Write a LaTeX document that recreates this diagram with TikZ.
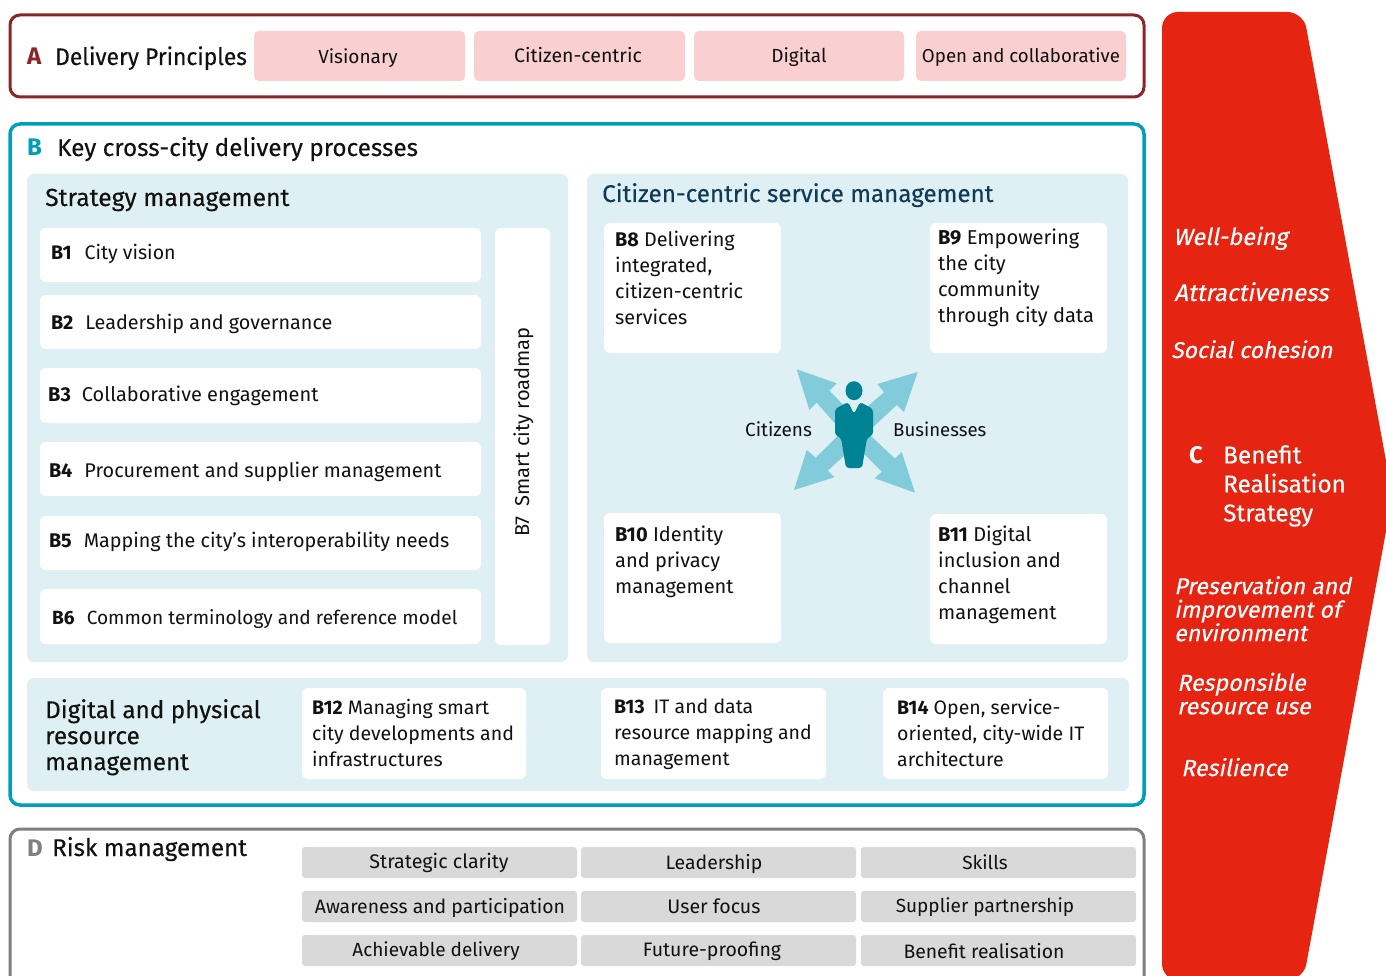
\documentclass[tikz,border=0pt]{standalone}
\usepackage{fontspec}
\setmainfont{Fira Sans}
\newfontfamily\headfont{Fira Sans}[FakeBold=0.25]
\newfontfamily\obl{Fira Sans}[FakeSlant=0.2,FakeBold=0.3]
\definecolor{cA}{HTML}{8C2626}
\definecolor{cPink}{HTML}{F9CFCF}
\definecolor{cB}{HTML}{009FB7}
\definecolor{cLight}{HTML}{DFF0F5}
\definecolor{cRed}{HTML}{E62412}
\definecolor{cGrey}{HTML}{7F7F7F}
\definecolor{cGreyBox}{HTML}{D9D9D9}
\definecolor{cTeal}{HTML}{008295}
\definecolor{cArrow}{HTML}{82CBDA}
\definecolor{cInk}{HTML}{111111}
\definecolor{cNavy}{HTML}{0F3B57}
\newcommand{\bx}[6]{%
  \pgfmathsetmacro{\bw}{#4-#2}\pgfmathsetmacro{\bh}{#5-#3}%
  \node[#6,anchor=north west,inner sep=0pt,outer sep=0pt,minimum width=\bw pt,minimum height=\bh pt] (#1) at (#2,#3) {};}
\newcommand{\fs}[1]{\fontsize{#1}{26}\selectfont}
\newcommand{\hs}[1]{\headfont\fontsize{#1}{26}\selectfont}
\newcommand{\ws}[1]{\obl\fontsize{#1}{23.5}\selectfont}
\tikzset{
  x=1pt,y=-1pt,
  frameA/.style={draw=cA,line width=3pt,fill=white,rounded corners=10pt},
  frameB/.style={draw=cB,line width=3.5pt,fill=white,rounded corners=10pt},
  frameD/.style={draw=cGrey,line width=3pt,fill=white,rounded corners=10pt},
  pinkbox/.style={fill=cPink,rounded corners=5pt},
  lightbox/.style={fill=cLight,rounded corners=7pt},
  whitebox/.style={fill=white,rounded corners=6pt},
  greybox/.style={fill=cGreyBox,rounded corners=3pt},
  body/.style={inner sep=0pt,text=cInk,align=left},
  lab/.style={body,anchor=base west},
  mid/.style={body,anchor=base,align=center},
  head/.style={inner sep=0pt,text=cInk,align=left},
  wtxt/.style={inner sep=0pt,text=white,align=left},
  arrowfill/.style={fill=cArrow},
  personfill/.style={fill=cTeal},
}
\begin{document}
\begin{tikzpicture}
\useasboundingbox (0,0) rectangle (1386,976);
\clip (0,0) rectangle (1386,976);
% Red benefit shape
\fill[cRed,rounded corners=16pt] (1162,12) -- (1303.4,12) -- (1392.5,496) -- (1303.4,980) -- (1162,980) -- cycle;
% Frame A
\bx{frA}{10}{15}{1144}{97}{frameA}
\node[head,anchor=base west,text=cA,font=\fontsize{24}{26}\selectfont\bfseries] (lA) at (27,65) {A};
\node[head,anchor=base west,font=\hs{24}] (tA) at (55,65) {\scalebox{0.95}[1]{Delivery Principles}};
\bx{p1}{254}{31}{465}{81}{pinkbox}
\bx{p2}{474}{31}{685}{81}{pinkbox}
\bx{p3}{694}{31}{904}{81}{pinkbox}
\bx{p4}{916}{31}{1126}{81}{pinkbox}
\node[mid,font=\fs{19}] (tp1) at (358,64) {Visionary};
\node[mid,font=\fs{19.5}] (tp2) at (578,63) {Citizen-centric};
\node[mid,font=\fs{19}] (tp3) at (799,63) {Digital};
\node[mid,font=\fs{18.7}] (tp4) at (1021,63) {Open and collaborative};
% Frame B
\bx{frB}{10}{124}{1144}{805}{frameB}
\node[head,anchor=base west,text=cB,font=\fontsize{24}{26}\selectfont\bfseries] (lB) at (27,156) {B};
\node[head,anchor=base west,font=\hs{24.3}] (tB) at (57,156) {Key cross-city delivery processes};
% Strategy
\bx{sm}{27}{174}{568}{662}{lightbox}
\node[head,anchor=base west,font=\hs{24.7}] (tsm) at (45,206) {Strategy management};
\bx{b1}{40}{228}{481}{282}{whitebox}
\bx{b2}{40}{295}{481}{349}{whitebox}
\bx{b3}{40}{368}{481}{423}{whitebox}
\bx{b4}{40}{442}{481}{496}{whitebox}
\bx{b5}{40}{516}{481}{570}{whitebox}
\bx{b6}{40}{589}{481}{644}{whitebox}
\bx{b7}{495}{228}{550}{645}{whitebox}
\node[lab,font=\fs{19.6}] (t1) at (51,260) {\textbf{B1}\hspace{13pt}City vision};
\node[lab,font=\fs{19.8}] (t2) at (51,329) {\textbf{B2}\hspace{12pt}Leadership and governance};
\node[lab,font=\fs{20}] (t3) at (48,401) {\textbf{B3}\hspace{11pt}Collaborative engagement};
\node[lab,font=\fs{19.85}] (t4) at (49,477) {\textbf{B4}\hspace{12pt}Procurement and supplier management};
\node[lab,font=\fs{19.75}] (t5) at (49,547) {\textbf{B5}\hspace{12pt}Mapping the city's interoperability needs};
\node[lab,font=\fs{19.1}] (t6) at (52,624) {\textbf{B6}\hspace{12pt}Common terminology and reference model};
\node[lab,rotate=90,font=\fs{20.1}] (t7) at (529,537) {B7\hspace{10pt}Smart city roadmap};
% Citizen-centric
\bx{cm}{587}{174}{1128}{662}{lightbox}
\node[head,anchor=base west,text=cNavy,font=\hs{24.2}] (tcm) at (602,202) {Citizen-centric service management};
\bx{b8}{604}{223}{781}{353}{whitebox}
\bx{b9}{930}{223}{1107}{353}{whitebox}
\bx{b10}{604}{513}{781}{643}{whitebox}
\bx{b11}{930}{514}{1107}{644}{whitebox}
\node[body,anchor=north west,font=\fs{19.8}] (t8) at (615,231) {\textbf{B8} Delivering\\integrated,\\citizen-centric\\services};
\node[body,anchor=north west,font=\fs{20.1}] (t9) at (938,229) {\textbf{B9} Empowering\\the city\\community\\through city data};
\node[body,anchor=north west,font=\fs{20}] (t10) at (615,526) {\textbf{B10} Identity\\and privacy\\management};
\node[body,anchor=north west,font=\fs{20}] (t11) at (938,526) {\textbf{B11} Digital\\inclusion and\\channel\\management};
\node[lab,font=\fs{19}] (tcit) at (745,436) {Citizens};
\node[lab,font=\fs{18.6}] (tbus) at (893,436) {Businesses};
% Arrows
\fill[arrowfill] (796.7,369.3) -- (836.7,383.3) -- (829.3,390.7) -- (870,432) -- (854,445) -- (816.7,402.7) -- (809.3,410) -- cycle;
\fill[arrowfill] (917.7,372) -- (904,412) -- (896.7,405) -- (854,445) -- (840,430) -- (884,392.3) -- (877.3,384) -- cycle;
\fill[arrowfill] (794,490) -- (806.7,450) -- (815.7,457.7) -- (854,420) -- (870,432) -- (827.7,470.7) -- (834.3,477.3) -- cycle;
\fill[arrowfill] (915,492.7) -- (874.7,478.3) -- (881.7,471.7) -- (840,430) -- (854,420) -- (895,458.7) -- (901.7,452) -- cycle;
% Person
\fill[personfill] (854,390.7) ellipse (8.5 and 9.5);
\fill[personfill,rounded corners=3pt] (848,402) -- (835,409) -- (835,435) -- (841,438) -- (846,468) -- (862,468) -- (867,438) -- (873,435) -- (873,409) -- (860,402) -- (854,414) -- cycle;
% Digital & physical
\bx{dp}{27}{678}{1129}{791}{lightbox}
\node[head,anchor=north west,font=\hs{24.3}] (tdp) at (45,699) {Digital and physical\\resource\\management};
\bx{b12}{302}{688}{526}{779}{whitebox}
\bx{b13}{601}{688}{826}{779}{whitebox}
\bx{b14}{883}{688}{1108}{779}{whitebox}
\node[body,anchor=north west,font=\fs{19.55}] (t12) at (312,699) {\textbf{B12} Managing smart\\city developments and\\infrastructures};
\node[body,anchor=north west,font=\fs{19.5}] (t13) at (614,699) {\textbf{B13}\hspace{9pt}IT and data\\resource mapping and\\management};
\node[body,anchor=north west,font=\fs{19.5}] (t14) at (897,699) {\textbf{B14} Open, service-\\oriented, city-wide IT\\architecture};
% Frame D
\bx{frD}{10}{829}{1144}{990}{frameD}
\node[head,anchor=base west,text=cGrey,font=\fontsize{24}{26}\selectfont\bfseries] (lD) at (27,856) {D};
\node[head,anchor=base west,font=\hs{24.2}] (tD) at (52,856) {Risk management};
\bx{g1}{302}{847}{577}{878}{greybox}
\bx{g2}{581}{847}{856}{878}{greybox}
\bx{g3}{861}{847}{1136}{878}{greybox}
\bx{g4}{302}{891}{577}{922}{greybox}
\bx{g5}{581}{891}{856}{922}{greybox}
\bx{g6}{861}{891}{1136}{922}{greybox}
\bx{g7}{302}{935}{577}{966}{greybox}
\bx{g8}{581}{935}{856}{966}{greybox}
\bx{g9}{861}{935}{1136}{966}{greybox}
\node[mid,font=\fs{19.7}] (tg1) at (439,868) {Strategic clarity};
\node[mid,font=\fs{19.4}] (tg2) at (714,869) {Leadership};
\node[mid,font=\fs{19}] (tg3) at (985,869) {Skills};
\node[mid,font=\fs{19.4}] (tg4) at (440,913) {Awareness and participation};
\node[mid,font=\fs{19.6}] (tg5) at (714,913) {User focus};
\node[mid,font=\fs{19}] (tg6) at (985,912) {Supplier partnership};
\node[mid,font=\fs{19}] (tg7) at (436,956) {Achievable delivery};
\node[mid,font=\fs{19.5}] (tg8) at (712,956) {Future-proofing};
\node[mid,font=\fs{19.4}] (tg9) at (984,958) {Benefit realisation};
% Red text
\node[wtxt,anchor=base west,font=\ws{23.5}] (w1) at (1173,245) {Well-being};
\node[wtxt,anchor=base west,font=\ws{24.1}] (w2) at (1174,301) {Attractiveness};
\node[wtxt,anchor=base west,font=\ws{22.8}] (w3) at (1171,358) {Social cohesion};
\node[inner sep=0pt,anchor=base west,text=white,font=\fontsize{24}{29}\selectfont\bfseries] (lC) at (1189,463) {C};
\node[inner sep=0pt,anchor=north west,text=white,align=left,font=\headfont\fontsize{24.3}{29}\selectfont] (tC) at (1223,445) {Benefit\\Realisation\\Strategy};
\node[wtxt,anchor=north west,font=\ws{23}] (w4) at (1174,576) {Preservation and\\improvement of\\environment};
\node[wtxt,anchor=north west,font=\ws{23.2}] (w5) at (1177,672.5) {Responsible\\resource use};
\node[wtxt,anchor=base west,font=\ws{23.2}] (w6) at (1181,776) {Resilience};
\end{tikzpicture}
\end{document}
